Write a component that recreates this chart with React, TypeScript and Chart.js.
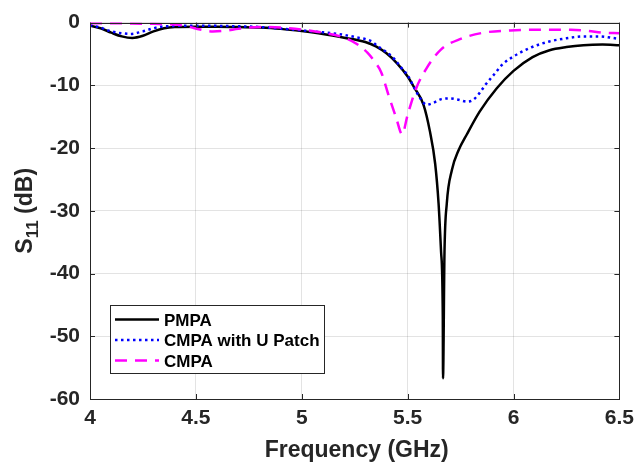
import React, { useEffect, useRef } from 'react';
import { Chart, registerables } from 'chart.js';

Chart.register(...registerables);

// ---- data ----
const pmpaFreq = [4.0, 4.05, 4.1, 4.15, 4.2, 4.25, 4.3, 4.35, 4.4, 4.5, 4.6, 4.7, 4.8, 4.9, 5.0, 5.1, 5.2, 5.3, 5.35, 5.4, 5.45, 5.5, 5.53, 5.575, 5.605, 5.63, 5.646, 5.658, 5.666, 5.667, 5.674, 5.685, 5.709, 5.74, 5.78, 5.84, 5.92, 6.0, 6.09, 6.17, 6.25, 6.33, 6.42, 6.5];
const pmpaS11 = [-0.5, -0.9, -1.6, -2.2, -2.45, -2.1, -1.4, -0.9, -0.7, -0.65, -0.65, -0.7, -0.8, -1.0, -1.35, -1.8, -2.4, -3.1, -3.8, -4.9, -6.5, -8.6, -10.3, -13.1, -17.3, -22.5, -28.8, -36.6, -47, -56.7, -36.6, -28.8, -23.5, -20.4, -17.8, -14.2, -10.5, -7.7, -5.5, -4.4, -3.9, -3.6, -3.5, -3.6];

const cmpaUFreq = [4.0, 4.05, 4.1, 4.15, 4.19, 4.25, 4.3, 4.35, 4.5, 4.65, 4.8, 4.9, 5.0, 5.1, 5.17, 5.25, 5.33, 5.36, 5.4, 5.44, 5.47, 5.5, 5.53, 5.56, 5.59, 5.62, 5.66, 5.7, 5.74, 5.78, 5.81, 5.84, 5.87, 5.91, 5.95, 6.0, 6.08, 6.17, 6.25, 6.33, 6.4, 6.5];
const cmpaUS11 = [-0.4, -0.8, -1.4, -1.7, -1.8, -1.4, -0.9, -0.6, -0.5, -0.55, -0.7, -0.95, -1.25, -1.55, -1.8, -2.3, -3.0, -3.8, -4.7, -5.9, -7.2, -8.4, -10.3, -12.1, -13.1, -12.8, -12.2, -12.1, -12.3, -12.6, -12.3, -11.2, -9.8, -8.2, -6.6, -5.4, -4.0, -3.0, -2.5, -2.2, -2.2, -2.6];

const cmpaFreq = [4.0, 4.1, 4.2, 4.3, 4.4, 4.46, 4.52, 4.58, 4.64, 4.7, 4.8, 4.9, 5.0, 5.1, 5.2, 5.26, 5.31, 5.35, 5.375, 5.41, 5.446, 5.474, 5.5, 5.54, 5.587, 5.657, 5.75, 5.86, 5.985, 6.11, 6.27, 6.35, 6.42, 6.5];
const cmpaS11 = [-0.1, -0.1, -0.15, -0.2, -0.3, -0.6, -1.1, -1.4, -1.3, -1.0, -0.7, -0.8, -1.1, -1.6, -2.4, -3.4, -4.8, -6.5, -7.9, -11.6, -15.2, -17.8, -14.7, -10.5, -7.4, -4.3, -2.6, -1.6, -1.25, -1.15, -1.15, -1.3, -1.6, -1.7];

const xTickValues = [4, 4.5, 5, 5.5, 6, 6.5];
const yTickValues = [0, -10, -20, -30, -40, -50, -60];

const seriesNames = ['PMPA', 'CMPA with U Patch', 'CMPA'];
const seriesColors = ['#000000', '#0000ff', '#ff00ff'];
const seriesDashes: number[][] = [[], [2.5, 3.5], [12, 8]];

const FONT = 'Arial, "Liberation Sans", sans-serif';
const AXIS_COLOR = '#262626';

const toPoints = (xs: number[], ys: number[]) => xs.map((x, i) => ({ x, y: ys[i] }));

const framePlugin = {
  id: 'framePlugin',
  afterDraw(chart: any) {
    const { ctx, chartArea: a, scales } = chart;
    ctx.save();
    // inward ticks
    ctx.strokeStyle = AXIS_COLOR;
    ctx.lineWidth = 1;
    const tl = 5;
    ctx.beginPath();
    xTickValues.forEach((v) => {
      const px = Math.round(scales.x.getPixelForValue(v)) + 0.5;
      ctx.moveTo(px, a.bottom);
      ctx.lineTo(px, a.bottom - tl);
      ctx.moveTo(px, a.top);
      ctx.lineTo(px, a.top + tl);
    });
    yTickValues.forEach((v) => {
      const py = Math.round(scales.y.getPixelForValue(v)) + 0.5;
      ctx.moveTo(a.left, py);
      ctx.lineTo(a.left + tl, py);
      ctx.moveTo(a.right, py);
      ctx.lineTo(a.right - tl, py);
    });
    ctx.stroke();
    // box
    ctx.strokeRect(Math.round(a.left) + 0.5, Math.round(a.top) + 0.5, Math.round(a.right - a.left), Math.round(a.bottom - a.top));

    // x title
    ctx.fillStyle = AXIS_COLOR;
    ctx.font = `bold 23px ${FONT}`;
    ctx.textAlign = 'center';
    ctx.textBaseline = 'alphabetic';
    ctx.fillText('Frequency (GHz)', (a.left + a.right) / 2 + 2, 457);

    // y title with subscript
    ctx.save();
    ctx.translate(32, (a.top + a.bottom) / 2);
    ctx.rotate(-Math.PI / 2);
    ctx.textAlign = 'left';
    const mainFont = `bold 23px ${FONT}`;
    const subFont = `bold 17px ${FONT}`;
    ctx.font = mainFont;
    const wS = ctx.measureText('S').width;
    const wRest = ctx.measureText(' (dB)').width;
    ctx.font = subFont;
    const wSub = ctx.measureText('11').width;
    let x0 = -(wS + wSub + wRest) / 2;
    ctx.font = mainFont;
    ctx.fillText('S', x0, 0);
    x0 += wS;
    ctx.font = subFont;
    ctx.fillText('11', x0, 6);
    x0 += wSub;
    ctx.font = mainFont;
    ctx.fillText(' (dB)', x0, 0);
    ctx.restore();

    // legend
    const lx = 110.5, ly = 305.5, lw = 214, lh = 68;
    ctx.fillStyle = '#ffffff';
    ctx.fillRect(lx, ly, lw, lh);
    ctx.strokeStyle = AXIS_COLOR;
    ctx.lineWidth = 1;
    ctx.setLineDash([]);
    ctx.strokeRect(lx, ly, lw, lh);
    const rows = [319.5, 340, 360.5];
    seriesNames.forEach((name, i) => {
      ctx.beginPath();
      ctx.strokeStyle = seriesColors[i];
      ctx.lineWidth = 2.5;
      ctx.setLineDash(seriesDashes[i]);
      ctx.moveTo(115, rows[i]);
      ctx.lineTo(159, rows[i]);
      ctx.stroke();
      ctx.setLineDash([]);
      ctx.fillStyle = '#000000';
      ctx.font = `bold 17px ${FONT}`;
      ctx.textAlign = 'left';
      ctx.textBaseline = 'alphabetic';
      ctx.fillText(name, 164, rows[i] + 6);
    });
    ctx.restore();
  },
};

export default function App() {
  const canvasRef = useRef<HTMLCanvasElement | null>(null);

  useEffect(() => {
    document.body.style.margin = '0';
    const canvas = canvasRef.current;
    if (!canvas) return;
    const ySeries = [pmpaS11, cmpaUS11, cmpaS11];
    const xSeries = [pmpaFreq, cmpaUFreq, cmpaFreq];
    const chart = new Chart(canvas, {
      type: 'line',
      data: {
        datasets: seriesNames.map((name, i) => ({
          label: name,
          data: toPoints(xSeries[i], ySeries[i]),
          borderColor: seriesColors[i],
          backgroundColor: seriesColors[i],
          borderWidth: 2.5,
          borderDash: seriesDashes[i],
          pointRadius: 0,
          fill: false,
          cubicInterpolationMode: 'monotone' as const,
          order: 3 - i,
        })),
      },
      options: {
        responsive: false,
        animation: false,
        events: [],
        layout: { padding: { top: 16, right: 18, left: 0, bottom: 0 } },
        plugins: {
          legend: { display: false },
          tooltip: { enabled: false },
          title: { display: false },
        },
        scales: {
          x: {
            type: 'linear',
            min: 4,
            max: 6.5,
            afterFit: (s: any) => { s.height = 67; },
            afterBuildTicks: (s: any) => { s.ticks = xTickValues.map((v) => ({ value: v })); },
            ticks: {
              padding: 7,
              color: AXIS_COLOR,
              font: { family: FONT, size: 21, weight: 'bold' },
              maxRotation: 0,
              callback: (v: any) => String(v),
            },
            grid: { color: 'rgba(38,38,38,0.13)', drawTicks: false, lineWidth: 1 },
            border: { display: false },
          },
          y: {
            type: 'linear',
            min: -60,
            max: 0,
            afterFit: (s: any) => { s.width = 90; },
            afterBuildTicks: (s: any) => { s.ticks = yTickValues.map((v) => ({ value: v })); },
            ticks: {
              padding: 10,
              color: AXIS_COLOR,
              font: { family: FONT, size: 21, weight: 'bold' },
              callback: (v: any) => String(v),
            },
            grid: { color: 'rgba(38,38,38,0.13)', drawTicks: false, lineWidth: 1 },
            border: { display: false },
          },
        },
      },
      plugins: [framePlugin],
    });
    return () => chart.destroy();
  }, []);

  return (
    <div style={{ width: 641, height: 466 }}>
      <canvas ref={canvasRef} width={641} height={466} style={{ display: 'block' }} />
    </div>
  );
}
